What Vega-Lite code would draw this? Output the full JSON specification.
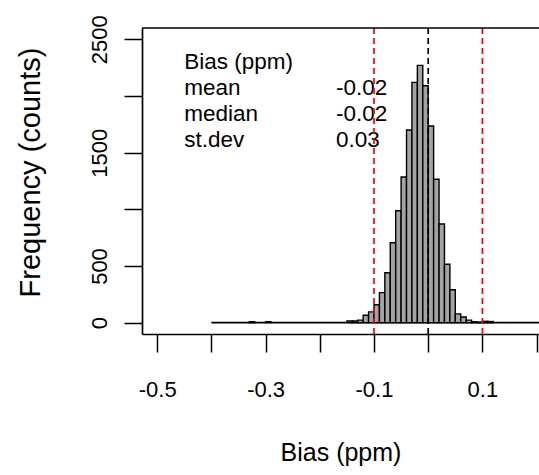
{
  "$schema": "https://vega.github.io/schema/vega-lite/v6.json",
  "width": 397,
  "height": 306,
  "autosize": {"type": "none"},
  "padding": {"left": 142, "top": 28, "right": 0, "bottom": 141},
  "background": "white",
  "config": {
    "view": {"stroke": null},
    "font": "Liberation Sans",
    "axis": {
      "grid": false,
      "domainColor": "black",
      "domainWidth": 1.7,
      "tickColor": "black",
      "tickWidth": 1.5,
      "tickSize": 18,
      "labelColor": "black",
      "labelFontSize": 22,
      "labelFlush": false,
      "labelOverlap": false,
      "titleColor": "black",
      "titleFontSize": 25,
      "titleFontWeight": "normal"
    }
  },
  "datasets": {
    "hist": [
      {"bin_start": -0.33, "bin_end": -0.32, "count": 8},
      {"bin_start": -0.30, "bin_end": -0.29, "count": 8},
      {"bin_start": -0.15, "bin_end": -0.14, "count": 15},
      {"bin_start": -0.14, "bin_end": -0.13, "count": 15},
      {"bin_start": -0.13, "bin_end": -0.12, "count": 22},
      {"bin_start": -0.12, "bin_end": -0.11, "count": 65},
      {"bin_start": -0.11, "bin_end": -0.10, "count": 95},
      {"bin_start": -0.10, "bin_end": -0.09, "count": 158},
      {"bin_start": -0.09, "bin_end": -0.08, "count": 265},
      {"bin_start": -0.08, "bin_end": -0.07, "count": 441},
      {"bin_start": -0.07, "bin_end": -0.06, "count": 705},
      {"bin_start": -0.06, "bin_end": -0.05, "count": 987},
      {"bin_start": -0.05, "bin_end": -0.04, "count": 1285},
      {"bin_start": -0.04, "bin_end": -0.03, "count": 1700},
      {"bin_start": -0.03, "bin_end": -0.02, "count": 2120},
      {"bin_start": -0.02, "bin_end": -0.01, "count": 2270},
      {"bin_start": -0.01, "bin_end": 0.00, "count": 2090},
      {"bin_start": 0.00, "bin_end": 0.01, "count": 1735},
      {"bin_start": 0.01, "bin_end": 0.02, "count": 1265},
      {"bin_start": 0.02, "bin_end": 0.03, "count": 870},
      {"bin_start": 0.03, "bin_end": 0.04, "count": 515},
      {"bin_start": 0.04, "bin_end": 0.05, "count": 290},
      {"bin_start": 0.05, "bin_end": 0.06, "count": 78},
      {"bin_start": 0.06, "bin_end": 0.07, "count": 50},
      {"bin_start": 0.07, "bin_end": 0.08, "count": 22},
      {"bin_start": 0.08, "bin_end": 0.09, "count": 8},
      {"bin_start": 0.09, "bin_end": 0.10, "count": 5},
      {"bin_start": 0.10, "bin_end": 0.11, "count": 12},
      {"bin_start": 0.11, "bin_end": 0.12, "count": 10}
    ],
    "range": [{"start": -0.4, "end": 0.3}],
    "refs": [
      {"bias": -0.1, "kind": "limit"},
      {"bias": 0.1, "kind": "limit"},
      {"bias": 0.0, "kind": "zero"}
    ],
    "stats": [
      {"label": "Bias (ppm)", "value": ""},
      {"label": "mean", "value": "-0.02"},
      {"label": "median", "value": "-0.02"},
      {"label": "st.dev", "value": "0.03"}
    ]
  },
  "layer": [
    {
      "data": {"name": "range"},
      "mark": {"type": "rule", "color": "black", "strokeWidth": 1.6, "clip": true},
      "encoding": {
        "x": {"field": "start", "type": "quantitative",
          "scale": {"domain": [-0.528, 0.2044], "nice": false, "zero": false},
          "axis": {
            "values": [-0.5, -0.4, -0.3, -0.2, -0.1, 0, 0.1, 0.2],
            "labelExpr": "abs(datum.value+0.5)<0.01?'-0.5':abs(datum.value+0.3)<0.01?'-0.3':abs(datum.value+0.1)<0.01?'-0.1':abs(datum.value-0.1)<0.01?'0.1':''",
            "labelPadding": 27,
            "title": "Bias (ppm)",
            "titlePadding": 40
          }
        },
        "x2": {"field": "end"},
        "y": {"datum": 0, "type": "quantitative",
          "scale": {"domain": [-100, 2600], "nice": false, "zero": false},
          "axis": {
            "values": [0, 500, 1000, 1500, 2000, 2500],
            "format": "d",
            "labelExpr": "datum.value==1000||datum.value==2000?'':datum.label",
            "labelAngle": 270,
            "labelAlign": "center",
            "labelBaseline": "bottom",
            "labelPadding": 13,
            "title": "Frequency (counts)",
            "titleFontSize": 29,
            "titlePadding": 43,
            "titleY": 144
          }
        }
      }
    },
    {
      "data": {"name": "hist"},
      "mark": {"type": "bar", "fill": "#a3a3a3", "stroke": "black", "strokeWidth": 1.4, "clip": true},
      "encoding": {
        "x": {"field": "bin_start", "type": "quantitative"},
        "x2": {"field": "bin_end"},
        "y": {"field": "count", "type": "quantitative"},
        "y2": {"datum": 0}
      }
    },
    {
      "data": {"name": "stats"},
      "transform": [{"aggregate": [{"op": "values", "field": "label", "as": "labels"}, {"op": "values", "field": "value", "as": "vals"}]},
        {"calculate": "pluck(datum.labels, 'label')", "as": "labelText"},
        {"calculate": "pluck(datum.vals, 'value')", "as": "valueText"}],
      "layer": [
        {
          "mark": {"type": "text", "align": "left", "baseline": "middle", "fontSize": 22.5, "lineHeight": 26, "color": "black"},
          "encoding": {"x": {"datum": -0.45}, "y": {"datum": 2303}, "text": {"field": "labelText"}}
        },
        {
          "mark": {"type": "text", "align": "left", "baseline": "middle", "fontSize": 22.5, "lineHeight": 26, "color": "black"},
          "encoding": {"x": {"datum": -0.17}, "y": {"datum": 2303}, "text": {"field": "valueText"}}
        }
      ]
    },
    {
      "data": {"name": "refs"},
      "mark": {"type": "rule", "strokeDash": [6, 4], "strokeWidth": 1.7},
      "encoding": {
        "x": {"field": "bias", "type": "quantitative"},
        "color": {"field": "kind", "type": "nominal",
          "scale": {"domain": ["limit", "zero"], "range": ["#ff0000", "black"]},
          "legend": null}
      }
    },
    {
      "data": {"values": [{}]},
      "mark": {"type": "rule", "color": "black", "strokeWidth": 1.7},
      "encoding": {"y": {"datum": 2600}}
    }
  ]
}
